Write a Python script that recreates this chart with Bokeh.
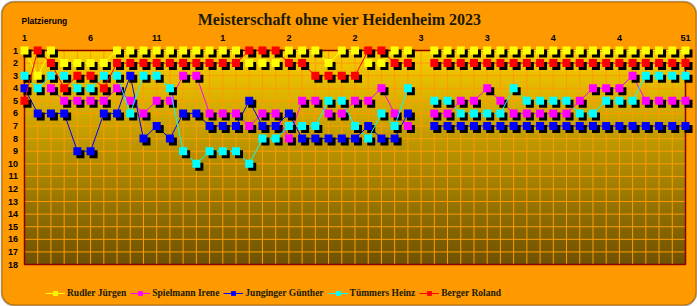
import numpy as np
from bokeh.plotting import figure
from bokeh.models import (ColumnDataSource, Range1d, BoxAnnotation, Label,
                          Legend, LegendItem)
from bokeh.transform import dodge
from bokeh.core.properties import value
from bokeh.embed import file_html
from bokeh.resources import INLINE

# ---- data: placement (rank) of each player per round; None = no round played
rounds = list(range(1, 52))
ranks = list(range(1, 19))
top_ticks = [1, 6, 11, 16, 21, 26, 31, 36, 41, 46, 51]
top_tick_labels = ["1", "6", "11", "1", "2", "2", "3", "3", "4", "4", "51"]

rudler = [1, 3, 1, 2, 2, 2, 2, 1, 1, 1,
          1, 1, 1, 1, 1, 1, 1, 2, 2, 2,
          1, 1, 1, 2, 1, 1, 2, 2, 1, 1,
          None,
          1, 1, 1, 1, 1, 1, 1, 1, 1, 1,
          1, 1, 1, 1, 1, 1, 1, 1, 1, 1]

spielmann = [None, None, 4, 5, 5, 5, 5, 4, 5, 6,
             5, 5, 3, 3, 6, 6, 6, 7, 6, 6,
             8, 5, 5, 6, 6, 5, 5, 4, 6, 7,
             None,
             6, 6, 5, 5, 4, 5, 6, 6, 6, 6,
             6, 5, 4, 4, 4, 3, 5, 5, 5, 5]

junginger = [4, 6, 6, 6, 9, 9, 6, 6, 3, 8,
             7, 8, 6, 6, 7, 7, 7, 5, 7, 7,
             6, 8, 8, 8, 8, 8, 7, 8, 8, 6,
             None,
             7, 7, 7, 7, 7, 7, 7, 7, 7, 7,
             7, 7, 7, 7, 7, 7, 7, 7, 7, 7]

tuemmers = [3, 4, 3, 3, 4, 4, 3, 3, 6, 3,
            3, 4, 9, 10, 9, 9, 9, 10, 8, 8,
            7, 7, 7, 5, 5, 7, 8, 6, 7, 4,
            None,
            5, 5, 6, 6, 6, 6, 4, 5, 5, 5,
            5, 6, 6, 5, 5, 5, 3, 3, 3, 3]

berger = [5, 1, 2, 4, 3, 3, 4, 2, 2, 2,
          2, 2, 2, 2, 2, 2, 2, 1, 1, 1,
          2, 2, 3, 3, 3, 3, 1, 1, 2, 2,
          None,
          2, 2, 2, 2, 2, 2, 2, 2, 2, 2,
          2, 2, 2, 2, 2, 2, 2, 2, 2, 2]

players = ["Rudler Jürgen", "Spielmann Irene", "Junginger Günther",
           "Tümmers Heinz", "Berger Roland"]
placements = [rudler, spielmann, junginger, tuemmers, berger]
colors = ["#FFFF00", "#FF00FF", "#0000FF", "#00FFFF", "#FF0000"]

# ---- canvas geometry (pixels)
W, H = 697, 306
PLOT_L, PLOT_R, PLOT_T, PLOT_B = 24, 685, 50, 264

px_round = (PLOT_R - PLOT_L) / (rounds[-1] - rounds[0])
px_rank = (PLOT_B - PLOT_T) / (ranks[-1] - ranks[0])
x_start = rounds[0] - PLOT_L / px_round
x_end = rounds[-1] + (W - PLOT_R) / px_round
y_top = ranks[0] - PLOT_T / px_rank
y_bottom = ranks[-1] + (H - PLOT_B) / px_rank

p = figure(width=W, height=H, output_backend="svg", toolbar_location=None,
           x_range=Range1d(x_start, x_end), y_range=Range1d(y_bottom, y_top),
           x_axis_location=None, y_axis_location=None, min_border=0)
p.background_fill_color = "white"
p.border_fill_color = "white"
p.outline_line_color = None
p.xgrid.visible = False
p.ygrid.visible = False

# rounded orange panel
panel = BoxAnnotation(left=x_start + 1 / px_round, right=x_end - 1 / px_round,
                      top=y_top + 1 / px_rank, bottom=y_bottom - 1 / px_rank,
                      fill_color="#FF9900", fill_alpha=1.0,
                      line_color="black", line_width=2, border_radius=13,
                      level="underlay")
p.add_layout(panel)

# vertical gradient inside the plotting area
n_bands = 107
edges = np.linspace(ranks[0], ranks[-1], n_bands + 1)
c_top = np.array([250, 206, 0])
c_bot = np.array([108, 80, 0])
t = np.linspace(0, 1, n_bands)
band_colors = ["#%02x%02x%02x" % tuple(int(round(v)) for v in (c_top + (c_bot - c_top) * f))
               for f in t]
p.quad(left=rounds[0], right=rounds[-1], top=edges[:-1], bottom=edges[1:],
       fill_color=band_colors, line_color=band_colors, line_width=0.6)

# grid
grid_col = "#FF9C00"
p.segment(x0=rounds, x1=rounds, y0=ranks[0], y1=ranks[-1],
          line_color=grid_col, line_width=1)
p.segment(x0=rounds[0], x1=rounds[-1], y0=ranks, y1=ranks,
          line_color=grid_col, line_width=1)
p.quad(left=[rounds[0]], right=[rounds[-1]], top=[ranks[0]], bottom=[ranks[-1]],
       fill_color=None, line_color="#8B0000", line_width=1.5)

# tick labels
p.text(x=top_ticks, y=[ranks[0]] * len(top_ticks), text=top_tick_labels,
       y_offset=-13, text_align="center", text_baseline="middle",
       text_font=value("Liberation Sans"), text_font_style="bold",
       text_font_size="9px", text_color="black")
p.text(x=[rounds[0]] * len(ranks), y=ranks, text=[str(r) for r in ranks],
       x_offset=-6.5, text_align="right", text_baseline="middle",
       text_font=value("Liberation Sans"), text_font_style="bold",
       text_font_size="9px", text_color="black")

# series: line, drop shadow, square markers
legend_items = []
for name, vals, col in zip(players, placements, colors):
    src = ColumnDataSource(dict(x=np.array(rounds, dtype=float),
                                y=np.array(vals, dtype=float)))
    ln = p.line("x", "y", source=src, line_color=col, line_width=1)
    p.scatter(dodge("x", 3 / px_round, range=p.x_range),
              dodge("y", 3 / px_rank, range=p.y_range),
              source=src, marker="square", size=8,
              fill_color="black", line_color=None)
    mk = p.scatter("x", "y", source=src, marker="square", size=8,
                   fill_color=col, line_color=None)
    legend_items.append(LegendItem(label=name, renderers=[ln, mk]))

legend = Legend(items=legend_items, orientation="horizontal",
                location=(45, 7), padding=0, margin=0, spacing=4,
                glyph_width=20, glyph_height=12, label_height=12,
                label_standoff=2, label_text_font="Liberation Serif",
                label_text_font_style="bold", label_text_font_size="9.5px",
                label_text_color="#1a1a00", label_text_baseline="middle",
                background_fill_alpha=0, border_line_alpha=0)
p.add_layout(legend)

p.add_layout(Label(x=341, y=H - 19, x_units="screen", y_units="screen",
                   text="Meisterschaft ohne vier Heidenheim  2023",
                   text_align="center", text_baseline="middle",
                   text_font="Liberation Serif", text_font_style="bold",
                   text_font_size="16px", text_color="#1a1a00"))
p.add_layout(Label(x=21, y=H - 20, x_units="screen", y_units="screen",
                   text="Platzierung", text_align="left",
                   text_baseline="middle", text_font="Liberation Sans",
                   text_font_style="bold", text_font_size="8.5px",
                   text_color="black"))

open("out.html", "w").write(file_html(p, INLINE))
